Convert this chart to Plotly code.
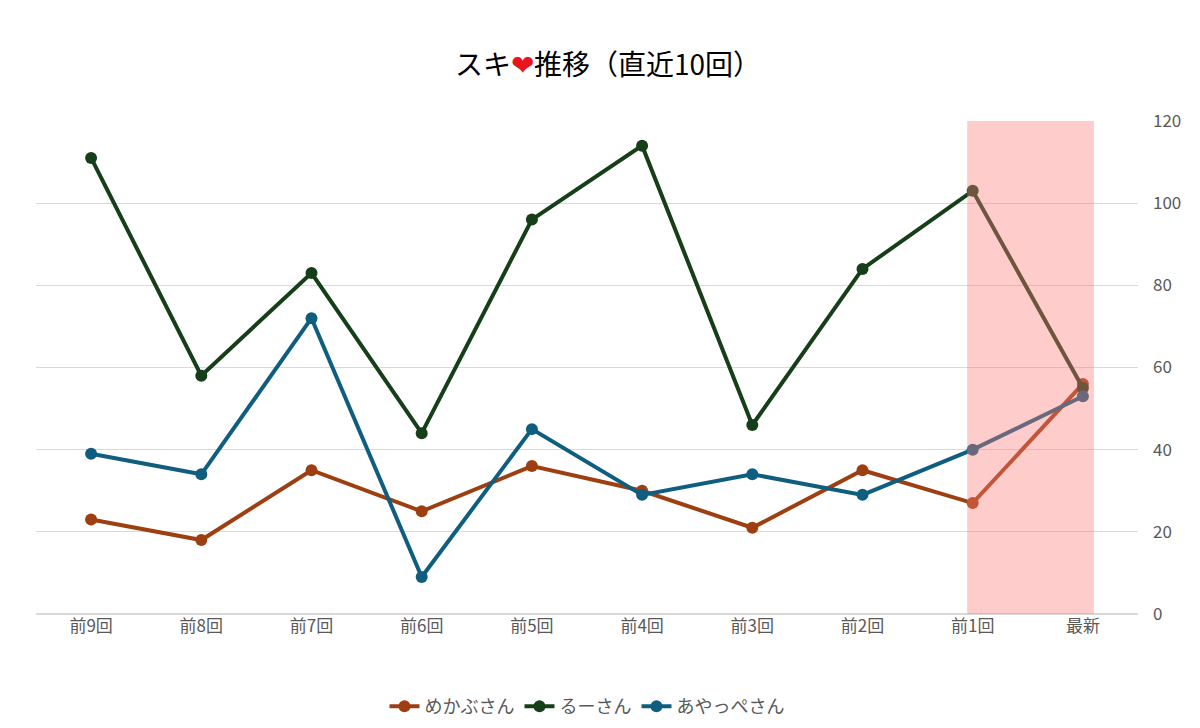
import plotly.graph_objects as go

labels = ["前9回", "前8回", "前7回", "前6回", "前5回", "前4回", "前3回", "前2回", "前1回", "最新"]
mekabu = [23, 18, 35, 25, 36, 30, 21, 35, 27, 56]
ru = [111, 58, 83, 44, 96, 114, 46, 84, 103, 55]
ayappe = [39, 34, 72, 9, 45, 29, 34, 29, 40, 53]

series = [("めかぶさん", mekabu, "#9E3F12"),
          ("るーさん", ru, "#163F19"),
          ("あやっぺさん", ayappe, "#0F5E80")]

fig = go.Figure()
for name, vals, col in series:
    fig.add_trace(go.Scatter(x=list(range(len(labels))), y=vals, name=name, mode="lines+markers",
                             line=dict(color=col, width=4), marker=dict(size=12, color=col)))

# highlight the last interval
fig.add_shape(type="rect", xref="x", yref="y", x0=7.95, x1=9.1, y0=-1.5, y1=120,
              fillcolor="rgba(255,120,120,0.38)", line_width=0, layer="above")

fig.update_layout(
    width=1200, height=728,
    font=dict(family="Noto Sans CJK JP", size=17, color="#595959"),
    title=dict(text="スキ<span style='color:#E8141E'>❤</span>推移（直近10回）", x=0.5, y=0.935,
               xanchor="center", font=dict(size=28, color="#000000")),
    paper_bgcolor="white", plot_bgcolor="white",
    margin=dict(l=28, r=70, t=113, b=122, autoexpand=False),
    xaxis=dict(tickvals=list(range(len(labels))), ticktext=labels, range=[-0.5, 9.5],
               showgrid=False, showline=False, zeroline=False, automargin=False),
    yaxis=dict(side="right", range=[0, 120], tick0=0, dtick=20, gridcolor="#D9D9D9",
               zeroline=True, zerolinecolor="#D9D9D9", showline=False, ticklabelstandoff=14,
               automargin=False),
    legend=dict(orientation="h", x=0.5, xanchor="center", y=-0.15, yanchor="top",
                font=dict(size=18, color="#595959")),
    showlegend=True,
)

fig.write_html("out.html")
